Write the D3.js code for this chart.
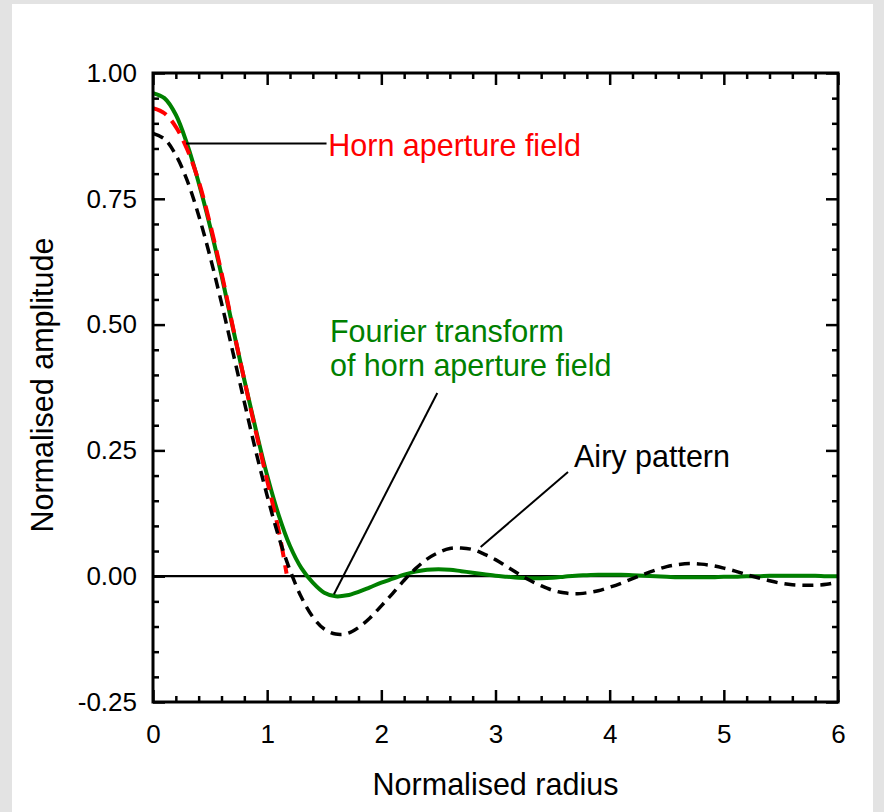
<!DOCTYPE html>
<html>
<head>
<meta charset="utf-8">
<script src="https://cdn.jsdelivr.net/npm/d3@7"></script>
<style>
  html, body { margin: 0; padding: 0; background: #e3e3e3; }
  svg { display: block; }
  text { font-family: "Liberation Sans", Arial, Helvetica, sans-serif; }
</style>
</head>
<body>
<svg id="chart" width="884" height="812"></svg>
<script>
// ---- data ----
const xTickValues = [0, 1, 2, 3, 4, 5, 6];
const xTickLabels = ["0", "1", "2", "3", "4", "5", "6"];
const yTickValues = [-0.25, 0, 0.25, 0.5, 0.75, 1.0];
const yTickLabels = ["-0.25", "0.00", "0.25", "0.50", "0.75", "1.00"];

const radius = [0, 0.1, 0.2, 0.3, 0.4, 0.5, 0.6, 0.7, 0.8, 0.9,
  1.0, 1.1, 1.2, 1.3, 1.4, 1.5, 1.6, 1.7, 1.8, 1.9,
  2.0, 2.1, 2.2, 2.3, 2.4, 2.5, 2.6, 2.7, 2.8, 2.9,
  3.0, 3.1, 3.2, 3.3, 3.4, 3.5, 3.6, 3.7, 3.8, 3.9,
  4.0, 4.1, 4.2, 4.3, 4.4, 4.5, 4.6, 4.7, 4.8, 4.9,
  5.0, 5.1, 5.2, 5.3, 5.4, 5.5, 5.6, 5.7, 5.8, 5.9, 6.0];

// Airy pattern (black dashed)
const airy = [0.880, 0.869, 0.837, 0.786, 0.717, 0.635, 0.543, 0.445, 0.346, 0.249,
  0.160, 0.079, 0.012, -0.042, -0.081, -0.105, -0.115, -0.114, -0.102, -0.083,
  -0.059, -0.034, -0.008, 0.015, 0.034, 0.047, 0.055, 0.056, 0.053, 0.044,
  0.033, 0.019, 0.005, -0.008, -0.019, -0.028, -0.033, -0.035, -0.033, -0.029,
  -0.022, -0.014, -0.005, 0.004, 0.012, 0.019, 0.023, 0.025, 0.024, 0.021,
  0.016, 0.010, 0.003, -0.003, -0.009, -0.014, -0.017, -0.018, -0.018, -0.016, -0.012];

// Fourier transform of horn aperture field (green solid)
const fourier = [0.960, 0.950, 0.917, 0.858, 0.782, 0.695, 0.598, 0.493, 0.390, 0.292,
  0.200, 0.122, 0.060, 0.016, -0.013, -0.033, -0.040, -0.038, -0.031, -0.022,
  -0.013, -0.005, 0.003, 0.009, 0.013, 0.014, 0.013, 0.010, 0.007, 0.004,
  0.001, -0.001, -0.003, -0.004, -0.004, -0.003, -0.001, 0.001, 0.002, 0.003,
  0.003, 0.003, 0.002, 0.001, 0.000, -0.001, -0.002, -0.002, -0.002, -0.002,
  -0.001, -0.001, 0.000, 0.000, 0.001, 0.001, 0.001, 0.001, 0.001, 0.000, 0.000];

// Horn aperture field (red dashed)
const hornRadius = [0, 0.1, 0.2, 0.3, 0.4, 0.5, 0.6, 0.7, 0.8, 0.9, 1.0, 1.1, 1.17];
const hornField = [0.930, 0.920, 0.893, 0.848, 0.785, 0.700, 0.603, 0.495, 0.390, 0.288, 0.190, 0.092, 0.005];

// annotation texts and leader lines (in data units)
const annotations = [
  { lines: ["Horn aperture field"], color: "#ff0000", x: 1.535, y: 0.835, leader: [[0.29, 0.86], [1.52, 0.86]] },
  { lines: ["Fourier transform", "of horn aperture field"], color: "#008000", x: 1.55, y: 0.465, leader: [[1.585, -0.036], [2.49, 0.364]] },
  { lines: ["Airy pattern"], color: "#000000", x: 3.688, y: 0.218, leader: [[2.87, 0.058], [3.635, 0.207]] }
];

// ---- layout ----
const W = 884, H = 812;
const plot = { left: 153, right: 838, top: 73, bottom: 702 };

const svg = d3.select("#chart");
svg.append("rect").attr("x", 12).attr("y", 4).attr("width", 861).attr("height", H - 4).attr("fill", "#ffffff");

const x = d3.scaleLinear().domain([0, 6]).range([plot.left, plot.right]);
const y = d3.scaleLinear().domain([-0.25, 1.0]).range([plot.bottom, plot.top]);

const tickStroke = 2.5;
const majorLen = 12, minorLen = 6;
const xMinor = d3.range(0, 6.0001, 0.2).filter(v => Math.abs(v - Math.round(v)) > 1e-6);
const yMinor = d3.range(-0.25, 1.0001, 0.05).filter(v => Math.abs(v / 0.25 - Math.round(v / 0.25)) > 1e-6);

function styleAxis(g) {
  g.select(".domain").remove();
  g.selectAll("line").attr("stroke", "#000").attr("stroke-width", tickStroke);
  g.selectAll("text").attr("fill", "#000").style("font-size", "26px")
    .style("font-family", '"Liberation Sans", Arial, sans-serif');
}

// bottom
svg.append("g").attr("transform", `translate(0,${plot.bottom})`)
  .call(d3.axisBottom(x).tickValues(xTickValues).tickSize(-majorLen).tickPadding(23)
    .tickFormat((d, i) => xTickLabels[i]))
  .call(styleAxis);
svg.append("g").attr("transform", `translate(0,${plot.bottom})`)
  .call(d3.axisBottom(x).tickValues(xMinor).tickSize(-minorLen).tickFormat(""))
  .call(styleAxis);
// top
svg.append("g").attr("transform", `translate(0,${plot.top})`)
  .call(d3.axisTop(x).tickValues(xTickValues).tickSize(-majorLen).tickFormat(""))
  .call(styleAxis);
svg.append("g").attr("transform", `translate(0,${plot.top})`)
  .call(d3.axisTop(x).tickValues(xMinor).tickSize(-minorLen).tickFormat(""))
  .call(styleAxis);
// left
svg.append("g").attr("transform", `translate(${plot.left},0)`)
  .call(d3.axisLeft(y).tickValues(yTickValues).tickSize(-majorLen).tickPadding(16)
    .tickFormat((d, i) => yTickLabels[i]))
  .call(styleAxis);
svg.append("g").attr("transform", `translate(${plot.left},0)`)
  .call(d3.axisLeft(y).tickValues(yMinor).tickSize(-minorLen).tickFormat(""))
  .call(styleAxis);
// right
svg.append("g").attr("transform", `translate(${plot.right},0)`)
  .call(d3.axisRight(y).tickValues(yTickValues).tickSize(-majorLen).tickFormat(""))
  .call(styleAxis);
svg.append("g").attr("transform", `translate(${plot.right},0)`)
  .call(d3.axisRight(y).tickValues(yMinor).tickSize(-minorLen).tickFormat(""))
  .call(styleAxis);

// zero line
svg.append("line")
  .attr("x1", x(0)).attr("x2", x(6)).attr("y1", y(0)).attr("y2", y(0))
  .attr("stroke", "#000").attr("stroke-width", 2.2);

// curves
const line = d3.line().x(d => x(d[0])).y(d => y(d[1])).curve(d3.curveCatmullRom.alpha(0.5));
const clip = svg.append("clipPath").attr("id", "clip").append("rect")
  .attr("x", plot.left).attr("y", plot.top).attr("width", plot.right - plot.left).attr("height", plot.bottom - plot.top);
const curves = svg.append("g").attr("clip-path", "url(#clip)");

curves.append("path").datum(radius.map((r, i) => [r, fourier[i]]))
  .attr("d", line).attr("fill", "none").attr("stroke", "#008000").attr("stroke-width", 4);
curves.append("path").datum(hornRadius.map((r, i) => [r, hornField[i]]))
  .attr("d", line).attr("fill", "none").attr("stroke", "#ff0000").attr("stroke-width", 4)
  .attr("stroke-dasharray", "15,8");
curves.append("path").datum(radius.map((r, i) => [r, airy[i]]))
  .attr("d", line).attr("fill", "none").attr("stroke", "#000").attr("stroke-width", 3.5)
  .attr("stroke-dasharray", "11,7");

// frame
svg.append("rect").attr("x", plot.left).attr("y", plot.top)
  .attr("width", plot.right - plot.left).attr("height", plot.bottom - plot.top)
  .attr("fill", "none").attr("stroke", "#000").attr("stroke-width", 3);

// annotations
annotations.forEach(a => {
  svg.append("line")
    .attr("x1", x(a.leader[0][0])).attr("y1", y(a.leader[0][1]))
    .attr("x2", x(a.leader[1][0])).attr("y2", y(a.leader[1][1]))
    .attr("stroke", "#000").attr("stroke-width", 2);
  const t = svg.append("text").attr("x", x(a.x)).attr("y", y(a.y))
    .attr("fill", a.color).style("font-size", "30.5px");
  a.lines.forEach((ln, i) => {
    t.append("tspan").attr("x", x(a.x)).attr("dy", i === 0 ? 0 : 34).text(ln);
  });
});

// axis titles
svg.append("text").attr("x", (plot.left + plot.right) / 2).attr("y", 795)
  .attr("text-anchor", "middle").style("font-size", "30.5px").attr("fill", "#000")
  .text("Normalised radius");
svg.append("text").attr("transform", `translate(53,385) rotate(-90)`)
  .attr("text-anchor", "middle").style("font-size", "30.5px").attr("fill", "#000")
  .text("Normalised amplitude");
</script>
</body>
</html>
